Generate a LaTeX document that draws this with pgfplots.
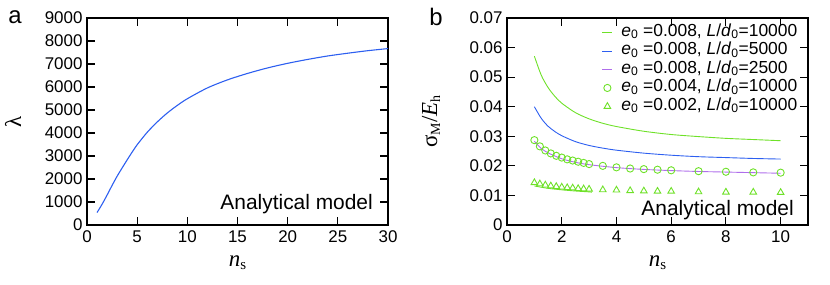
\documentclass[border=0pt]{standalone}
\usepackage{fontspec}
\setmainfont{Liberation Sans}
\newfontfamily\serif{Liberation Serif}
\usepackage{pgfplots}
\pgfplotsset{compat=1.18}
\definecolor{cgreen}{RGB}{110,225,40}
\definecolor{cblue}{RGB}{45,95,240}
\definecolor{cpurple}{RGB}{175,110,235}
\pgfplotsset{
  panel/.style={
    scale only axis, width=301bp, height=207bp, anchor=south west,
    axis line style={line width=1.2bp}, tick style={line width=1.1bp, black},
    major tick length=8bp, tick align=inside,
    xtick pos=both, ytick pos=both,
    scaled y ticks=false, scaled x ticks=false,
    ticklabel style={font=\fontsize{17}{19}\selectfont},
    every x tick label/.append style={yshift=-2bp},
    every y tick label/.append style={xshift=-1bp},
    minor tick num=0,
    clip=false,
    legend image code/.code={\draw[mark repeat=2,mark phase=2,#1] plot coordinates {(0bp,0bp) (5bp,0bp) (10bp,0bp)};},
  }
}
\begin{document}
\begin{tikzpicture}
\path[use as bounding box] (0,0) rectangle (830bp,285bp);
\node[font=\fontsize{24}{26}\selectfont, anchor=center] at (15bp,268bp) {a};
\node[font=\fontsize{24}{26}\selectfont, anchor=center] at (436bp,268bp) {b};

\begin{axis}[panel, at={(87bp,60bp)},
  xmin=0, xmax=30, ymin=0, ymax=9000,
  xtick={0,5,10,15,20,25,30}, xticklabels={0,5,10,15,20,25,30},
  ytick={0,1000,2000,3000,4000,5000,6000,7000,8000,9000},
  yticklabels={0,1000,2000,3000,4000,5000,6000,7000,8000,9000},
  xlabel={{\fontsize{23}{25}\selectfont\serif\itshape n}\raisebox{-3bp}{\fontsize{15}{17}\selectfont\serif s}},
  xlabel style={at={([yshift=-38bp]rel axis cs:0.5,0)}, anchor=center},
  ylabel={\fontsize{23}{25}\selectfont\serif λ},
  ylabel style={at={([xshift=-74bp]rel axis cs:0,0.5)}, anchor=center},
]
\addplot[cblue, line width=1.1bp, smooth] coordinates {
(1,540) (1.5,900) (2,1300) (2.5,1720) (3,2120) (3.5,2480) (4,2830) (4.5,3170) (5,3490)
(6,4030) (7,4480) (8,4870) (9,5200) (10,5490) (12,5960) (14,6310) (16,6590)
(18,6830) (20,7030) (22,7200) (24,7350) (26,7470) (28,7580) (30,7670)};
\node[anchor=base east, inner sep=0, font=\fontsize{21}{23}\selectfont] at ([xshift=-15bp,yshift=16bp]rel axis cs:1,0) {Analytical model};
\end{axis}

\begin{axis}[panel, at={(507bp,60bp)},
  xmin=0, xmax=11, ymin=0, ymax=0.07,
  xtick={0,2,4,6,8,10}, xticklabels={0,2,4,6,8,10},
  ytick={0,0.01,0.02,0.03,0.04,0.05,0.06,0.07},
  yticklabels={0,0.01,0.02,0.03,0.04,0.05,0.06,0.07},
  xlabel={{\fontsize{23}{25}\selectfont\serif\itshape n}\raisebox{-3bp}{\fontsize{15}{17}\selectfont\serif s}},
  xlabel style={at={([yshift=-38bp]rel axis cs:0.5,0)}, anchor=center},
  ylabel={{\fontsize{23}{25}\selectfont\serif σ}\raisebox{-3bp}{\fontsize{14}{16}\selectfont\serif M}{\fontsize{23}{25}\selectfont\serif /\itshape E}\raisebox{-3bp}{\fontsize{14}{16}\selectfont\serif h}},
  ylabel style={at={([xshift=-76bp]rel axis cs:0,0.5)}, anchor=center},
  legend cell align=left,
  legend style={draw=none, fill=none, at={(rel axis cs:1,1)}, anchor=north east,
    xshift=-10bp, yshift=-5bp, inner sep=0pt, row sep=0bp, column sep=8bp,
    font=\fontsize{17.5}{19}\selectfont,
    nodes={inner sep=0.5bp, text height=12.5bp, text depth=5bp, font=\fontsize{17.5}{19}\selectfont}},
]
\addplot[cgreen, line width=0.9bp, smooth] coordinates {
(1,0.0571) (1.25,0.0507) (1.5,0.0465) (1.75,0.0435) (2,0.0412) (2.5,0.0380) (3,0.0359)
(3.5,0.0344) (4,0.0333) (5,0.0317) (6,0.0306) (7,0.0299) (8,0.0293) (9,0.0289) (10,0.0285)};
\addlegendentry{\textit{e}\textsubscript{0} =0.008, \textit{L}/\textit{d}\textsubscript{0}=10000}
\addplot[cblue, line width=0.9bp, smooth] coordinates {
(1,0.0400) (1.25,0.0361) (1.5,0.0334) (1.75,0.0316) (2,0.0302) (2.5,0.0282) (3,0.0269)
(3.5,0.0260) (4,0.0253) (5,0.0243) (6,0.0236) (7,0.0231) (8,0.0228) (9,0.0225) (10,0.0223)};
\addlegendentry{\textit{e}\textsubscript{0} =0.008, \textit{L}/\textit{d}\textsubscript{0}=5000}
\addplot[cpurple, line width=0.9bp, smooth] coordinates {
(1,0.0283) (1.25,0.0259) (1.5,0.0244) (2,0.0224) (2.5,0.0212) (3,0.0204) (4,0.0194)
(5,0.0188) (6,0.0184) (7,0.0181) (8,0.0179) (9,0.0177) (10,0.0175)};
\addlegendentry{\textit{e}\textsubscript{0} =0.008, \textit{L}/\textit{d}\textsubscript{0}=2500}
\addplot[cgreen, only marks, mark=o, mark size=3.6bp, mark options={line width=0.9bp}] coordinates {
(1,0.0287) (1.2,0.0266) (1.4,0.0252) (1.6,0.0242) (1.8,0.0234) (2.0,0.0228) (2.2,0.0222)
(2.4,0.0218) (2.6,0.0214) (2.8,0.0210) (3.0,0.0206) (3.5,0.0200) (4,0.0195) (4.5,0.0191)
(5,0.0189) (5.5,0.0187) (6,0.0185) (7,0.0182) (8,0.0180) (9,0.0178) (10,0.0177)};
\addlegendentry{\textit{e}\textsubscript{0} =0.004, \textit{L}/\textit{d}\textsubscript{0}=10000}
\addplot[cgreen, only marks, mark=triangle, mark size=3.8bp, mark options={line width=0.9bp}] coordinates {
(1,0.0143) (1.2,0.0139) (1.4,0.0135) (1.6,0.0132) (1.8,0.0130) (2.0,0.0128) (2.2,0.0126)
(2.4,0.0125) (2.6,0.0123) (2.8,0.0122) (3.0,0.0121) (3.5,0.0119) (4,0.0118) (4.5,0.0116)
(5,0.0115) (5.5,0.0114) (6,0.0114) (7,0.0112) (8,0.0111) (9,0.0111) (10,0.0110)};
\addlegendentry{\textit{e}\textsubscript{0} =0.002, \textit{L}/\textit{d}\textsubscript{0}=10000}
\addplot[cgreen, line width=0.9bp, smooth, forget plot] coordinates {
(1,0.0132) (1.5,0.0124) (2,0.0119) (2.5,0.0115) (3,0.0112) (3.1,0.0111)};
\node[anchor=base east, inner sep=0, font=\fontsize{21}{23}\selectfont] at ([xshift=-14bp,yshift=10bp]rel axis cs:1,0) {Analytical model};
\end{axis}
\end{tikzpicture}
\end{document}
